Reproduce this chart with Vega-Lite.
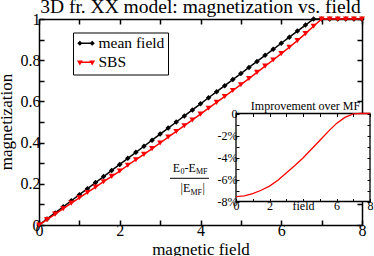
{
  "$schema": "https://vega.github.io/schema/vega-lite/v6.json",
  "width": 323,
  "height": 206,
  "autosize": {"type": "none"},
  "padding": {"left": 39, "top": 19, "right": 12, "bottom": 31},
  "background": "white",
  "title": {"text": "3D fr. XX model: magnetization vs. field", "font": "Liberation Serif", "fontSize": 19.5, "fontWeight": "normal", "color": "black", "anchor": "middle", "frame": "group", "offset": -6},
  "config": {
    "view": {"stroke": null},
    "axis": {"grid": false, "labelFont": "Liberation Serif", "titleFont": "Liberation Serif", "labelColor": "black", "titleColor": "black", "domainColor": "black", "tickColor": "black", "titleFontWeight": "normal", "minExtent": 0, "labelOverlap": false, "labelFlush": false, "labelBound": false},
    "legend": {"labelFontSize": 15.5, "labelFont": "Liberation Serif"}
  },
  "datasets": {
    "main": [
      {"h": 0, "mf": 0, "sbs": 0},
      {"h": 0.2, "mf": 0.0294, "sbs": 0.026},
      {"h": 0.4, "mf": 0.0588, "sbs": 0.053},
      {"h": 0.6, "mf": 0.0882, "sbs": 0.079},
      {"h": 0.8, "mf": 0.1176, "sbs": 0.106},
      {"h": 1.0, "mf": 0.1471, "sbs": 0.132},
      {"h": 1.2, "mf": 0.1765, "sbs": 0.158},
      {"h": 1.4, "mf": 0.2059, "sbs": 0.184},
      {"h": 1.6, "mf": 0.2353, "sbs": 0.210},
      {"h": 1.8, "mf": 0.2647, "sbs": 0.236},
      {"h": 2.0, "mf": 0.2941, "sbs": 0.262},
      {"h": 2.2, "mf": 0.3235, "sbs": 0.290},
      {"h": 2.4, "mf": 0.3529, "sbs": 0.317},
      {"h": 2.6, "mf": 0.3824, "sbs": 0.343},
      {"h": 2.8, "mf": 0.4118, "sbs": 0.371},
      {"h": 3.0, "mf": 0.4412, "sbs": 0.398},
      {"h": 3.2, "mf": 0.4706, "sbs": 0.427},
      {"h": 3.4, "mf": 0.5, "sbs": 0.454},
      {"h": 3.6, "mf": 0.5294, "sbs": 0.482},
      {"h": 3.8, "mf": 0.5588, "sbs": 0.510},
      {"h": 4.0, "mf": 0.5882, "sbs": 0.538},
      {"h": 4.2, "mf": 0.6176, "sbs": 0.567},
      {"h": 4.4, "mf": 0.6471, "sbs": 0.595},
      {"h": 4.6, "mf": 0.6765, "sbs": 0.624},
      {"h": 4.8, "mf": 0.7059, "sbs": 0.653},
      {"h": 5.0, "mf": 0.7353, "sbs": 0.681},
      {"h": 5.2, "mf": 0.7647, "sbs": 0.711},
      {"h": 5.4, "mf": 0.7941, "sbs": 0.741},
      {"h": 5.6, "mf": 0.8235, "sbs": 0.771},
      {"h": 5.8, "mf": 0.8529, "sbs": 0.801},
      {"h": 6.0, "mf": 0.8824, "sbs": 0.832},
      {"h": 6.2, "mf": 0.9118, "sbs": 0.863},
      {"h": 6.4, "mf": 0.9412, "sbs": 0.895},
      {"h": 6.6, "mf": 0.9706, "sbs": 0.929},
      {"h": 6.8, "mf": 1, "sbs": 0.965},
      {"h": 7.0, "mf": 1, "sbs": 1},
      {"h": 7.2, "mf": 1, "sbs": 1},
      {"h": 7.4, "mf": 1, "sbs": 1},
      {"h": 7.6, "mf": 1, "sbs": 1},
      {"h": 7.8, "mf": 1, "sbs": 1},
      {"h": 8.0, "mf": 1, "sbs": 1}
    ],
    "inset": [
      {"h": 0, "d": -0.0755},
      {"h": 0.5, "d": -0.0748},
      {"h": 1, "d": -0.0728},
      {"h": 1.5, "d": -0.0698},
      {"h": 2, "d": -0.066},
      {"h": 2.5, "d": -0.0607},
      {"h": 3, "d": -0.054},
      {"h": 3.5, "d": -0.0475},
      {"h": 4, "d": -0.0405},
      {"h": 4.5, "d": -0.0325},
      {"h": 5, "d": -0.0245},
      {"h": 5.5, "d": -0.0165},
      {"h": 6, "d": -0.009},
      {"h": 6.5, "d": -0.0035},
      {"h": 7, "d": -0.0003},
      {"h": 7.5, "d": 0},
      {"h": 8, "d": 0}
    ],
    "series": [
      {"s": "mean field"},
      {"s": "SBS"}
    ]
  },
  "resolve": {"scale": {"x": "independent", "y": "independent"}, "axis": {"x": "independent", "y": "independent"}},
  "layer": [
    {
      "data": {"name": "main"},
      "resolve": {"axis": {"x": "independent", "y": "independent"}},
      "layer": [
        {
          "mark": {"type": "line", "strokeWidth": 1.5, "color": "black"},
          "encoding": {
            "x": {"field": "h", "type": "quantitative", "scale": {"domain": [0, 8], "nice": false, "zero": false},
              "axis": {"orient": "bottom", "values": [0, 1, 2, 3, 4, 5, 6, 7, 8], "format": "d", "labelExpr": "datum.value % 2 === 0 ? datum.label : ''", "labelFontSize": 16, "labelPadding": 2, "tickSize": -5, "domainWidth": 1.5, "tickWidth": 1.5, "title": "magnetic field", "titleFontSize": 17, "titleX": 161.5, "titleY": 29.5, "titleBaseline": "alphabetic", "titleAlign": "center",
                "encode": {"ticks": {"y2": {"value": {"signal": "datum.value % 2 === 0 ? -6 : -3"}}}}}},
            "y": {"field": "mf", "type": "quantitative", "scale": {"domain": [0, 1], "nice": false, "zero": false},
              "axis": {"orient": "left", "values": [0, 0.1, 0.2, 0.3, 0.4, 0.5, 0.6, 0.7, 0.8, 0.9, 1], "labelExpr": "round(datum.value*10) % 2 === 0 ? format(datum.value, '.1~f') : ''", "labelFontSize": 16, "labelPadding": 4, "tickSize": -5, "domainWidth": 1.5, "tickWidth": 1.5, "title": "magnetization", "titleFontSize": 17, "titleX": -28, "titleY": 102.5, "titleBaseline": "alphabetic", "titleAngle": 270, "titleAlign": "center",
                "encode": {"ticks": {"x2": {"value": {"signal": "round(datum.value*10) % 2 === 0 ? 6 : 3"}}}}}}
          }
        },
        {
          "mark": {"type": "point", "shape": "diamond", "filled": true, "color": "black", "size": 30, "opacity": 1},
          "encoding": {
            "x": {"field": "h", "type": "quantitative", "scale": {"domain": [0, 8], "nice": false, "zero": false}, "axis": null},
            "y": {"field": "mf", "type": "quantitative", "scale": {"domain": [0, 1], "nice": false, "zero": false}, "axis": null}
          }
        },
        {
          "mark": {"type": "line", "strokeWidth": 1.5, "color": "red"},
          "encoding": {
            "x": {"field": "h", "type": "quantitative", "scale": {"domain": [0, 8], "nice": false, "zero": false},
              "axis": {"orient": "top", "values": [0, 1, 2, 3, 4, 5, 6, 7, 8], "labels": false, "title": null, "tickSize": -5, "domainWidth": 1.5, "tickWidth": 1.5,
                "encode": {"ticks": {"y2": {"value": {"signal": "datum.value % 2 === 0 ? 6 : 3"}}}}}},
            "y": {"field": "sbs", "type": "quantitative", "scale": {"domain": [0, 1], "nice": false, "zero": false},
              "axis": {"orient": "right", "values": [0, 0.1, 0.2, 0.3, 0.4, 0.5, 0.6, 0.7, 0.8, 0.9, 1], "labels": false, "title": null, "tickSize": -5, "domainWidth": 1.5, "tickWidth": 1.5,
                "encode": {"ticks": {"x2": {"value": {"signal": "round(datum.value*10) % 2 === 0 ? -6 : -3"}}}}}}
          }
        },
        {
          "mark": {"type": "point", "shape": "triangle-down", "filled": true, "color": "red", "size": 35, "opacity": 1},
          "encoding": {
            "x": {"field": "h", "type": "quantitative", "scale": {"domain": [0, 8], "nice": false, "zero": false}, "axis": null},
            "y": {"field": "sbs", "type": "quantitative", "scale": {"domain": [0, 1], "nice": false, "zero": false}, "axis": null}
          }
        },
        {
          "data": {"name": "series"},
          "mark": {"type": "point", "filled": true, "opacity": 0},
          "encoding": {
            "color": {"field": "s", "type": "nominal", "scale": {"domain": ["mean field", "SBS"], "range": ["black", "red"]},
              "legend": {"orient": "none", "legendX": 34, "legendY": 13.5, "title": null, "strokeColor": "black", "fillColor": "white", "padding": 3, "labelFont": "Liberation Serif", "labelFontSize": 15.5, "labelColor": "black", "labelOffset": 7, "symbolSize": 169, "symbolOpacity": 1, "symbolStrokeWidth": 0}},
            "shape": {"field": "s", "type": "nominal", "scale": {"domain": ["mean field", "SBS"], "range": ["M-0.6,-0.1H1.3V0.1H-0.6ZM-0.6,-0.4L-0.2,0L-0.6,0.4L-1,0ZM1.3,-0.4L1.7,0L1.3,0.4L0.9,0Z", "M-0.6,-0.1H1.3V0.1H-0.6ZM-1.05,-0.28L-0.15,-0.28L-0.6,0.5ZM0.85,-0.28L1.75,-0.28L1.3,0.5Z"]},
              "legend": {"orient": "none", "legendX": 34, "legendY": 13.5, "title": null, "strokeColor": "black", "fillColor": "white", "padding": 3, "labelFont": "Liberation Serif", "labelFontSize": 15.5, "labelColor": "black", "labelOffset": 7, "symbolSize": 169, "symbolOpacity": 1, "symbolStrokeWidth": 0}}
          }
        }
      ]
    },
    {
      "resolve": {"axis": {"x": "independent", "y": "independent"}},
      "layer": [
        {
          "data": {"values": [{}]},
          "mark": {"type": "rect", "fill": "white", "stroke": "black", "strokeWidth": 1.3},
          "encoding": {
            "x": {"datum": 0, "type": "quantitative", "scale": {"domain": [0, 8], "range": [197, 331], "nice": false, "zero": false},
              "axis": {"orient": "top", "offset": -94.5, "values": [0, 1, 2, 3, 4, 5, 6, 7, 8], "labels": false, "domain": false, "tickSize": -3, "title": "Improvement over MF", "titleFontSize": 12, "titleX": 266, "titleY": -4, "titleBaseline": "alphabetic", "titleAlign": "center", "zindex": 1, "tickWidth": 1,
                "encode": {"ticks": {"y2": {"value": {"signal": "datum.value % 2 === 0 ? 4 : 2.5"}}}}}},
            "x2": {"datum": 8},
            "y": {"datum": -0.08, "type": "quantitative", "scale": {"domain": [-0.08, 0], "range": [182.5, 94.5], "nice": false, "zero": false},
              "axis": {"orient": "right", "offset": 8, "values": [-0.08, -0.07, -0.06, -0.05, -0.04, -0.03, -0.02, -0.01, 0], "labels": false, "domain": false, "tickSize": -3, "title": null, "zindex": 1, "tickWidth": 1,
                "encode": {"ticks": {"x2": {"value": {"signal": "abs(round(datum.value*100)) % 2 === 0 ? -4 : -2.5"}}}}}},
            "y2": {"datum": 0}
          }
        },
        {
          "data": {"name": "inset"},
          "mark": {"type": "line", "color": "red", "strokeWidth": 1.3},
          "encoding": {
            "x": {"field": "h", "type": "quantitative", "scale": {"domain": [0, 8], "range": [197, 331], "nice": false, "zero": false},
              "axis": {"orient": "bottom", "offset": -23.5, "values": [0, 1, 2, 3, 4, 5, 6, 7, 8], "format": "d", "labelExpr": "datum.value === 4 ? 'field' : (datum.value % 2 === 0 ? datum.label : '')", "labelFontSize": 12, "labelPadding": 2, "tickSize": -3, "domain": false, "title": null, "zindex": 1, "tickWidth": 1,
                "encode": {"ticks": {"y2": {"value": {"signal": "datum.value % 2 === 0 ? -4 : -2.5"}}}}}},
            "y": {"field": "d", "type": "quantitative", "scale": {"domain": [-0.08, 0], "range": [182.5, 94.5], "nice": false, "zero": false},
              "axis": {"orient": "left", "offset": -197, "values": [-0.08, -0.07, -0.06, -0.05, -0.04, -0.03, -0.02, -0.01, 0], "labelExpr": "abs(round(datum.value*100)) % 2 === 0 ? (datum.value === 0 ? '0' : '-' + format(abs(datum.value)*100, '.0f') + '%') : ''", "labelFontSize": 12, "labelPadding": 2, "tickSize": -3, "domain": false, "title": null, "zindex": 1, "tickWidth": 1,
                "encode": {"ticks": {"x2": {"value": {"signal": "abs(round(datum.value*100)) % 2 === 0 ? 4 : 2.5"}}}}}}
          }
        },
        {
          "data": {"values": [{}]},
          "mark": {"type": "text", "text": "E", "font": "Liberation Serif", "color": "black", "fontSize": 12, "align": "left", "baseline": "alphabetic"},
          "encoding": {"x": {"datum": -3.78, "type": "quantitative", "axis": null}, "y": {"datum": -0.05345, "type": "quantitative", "axis": null}}
        },
        {
          "data": {"values": [{}]},
          "mark": {"type": "text", "text": "0", "font": "Liberation Serif", "color": "black", "fontSize": 8, "align": "left", "baseline": "alphabetic"},
          "encoding": {"x": {"datum": -3.31, "type": "quantitative", "axis": null}, "y": {"datum": -0.05545, "type": "quantitative", "axis": null}}
        },
        {
          "data": {"values": [{}]},
          "mark": {"type": "text", "text": "-E", "font": "Liberation Serif", "color": "black", "fontSize": 12, "align": "left", "baseline": "alphabetic"},
          "encoding": {"x": {"datum": -3.07, "type": "quantitative", "axis": null}, "y": {"datum": -0.05345, "type": "quantitative", "axis": null}}
        },
        {
          "data": {"values": [{}]},
          "mark": {"type": "text", "text": "MF", "font": "Liberation Serif", "color": "black", "fontSize": 8, "align": "left", "baseline": "alphabetic"},
          "encoding": {"x": {"datum": -2.39, "type": "quantitative", "axis": null}, "y": {"datum": -0.05545, "type": "quantitative", "axis": null}}
        },
        {
          "data": {"values": [{}]},
          "mark": {"type": "rule", "color": "black", "strokeWidth": 1},
          "encoding": {"x": {"datum": -3.94, "type": "quantitative", "axis": null}, "x2": {"datum": -1.61}, "y": {"datum": -0.0589, "type": "quantitative", "axis": null}}
        },
        {
          "data": {"values": [{}]},
          "mark": {"type": "text", "text": "|E", "font": "Liberation Serif", "color": "black", "fontSize": 12, "align": "left", "baseline": "alphabetic"},
          "encoding": {"x": {"datum": -3.31, "type": "quantitative", "axis": null}, "y": {"datum": -0.07136, "type": "quantitative", "axis": null}}
        },
        {
          "data": {"values": [{}]},
          "mark": {"type": "text", "text": "MF", "font": "Liberation Serif", "color": "black", "fontSize": 8, "align": "left", "baseline": "alphabetic"},
          "encoding": {"x": {"datum": -2.72, "type": "quantitative", "axis": null}, "y": {"datum": -0.07364, "type": "quantitative", "axis": null}}
        },
        {
          "data": {"values": [{}]},
          "mark": {"type": "text", "text": "|", "font": "Liberation Serif", "color": "black", "fontSize": 12, "align": "left", "baseline": "alphabetic"},
          "encoding": {"x": {"datum": -2.0, "type": "quantitative", "axis": null}, "y": {"datum": -0.07136, "type": "quantitative", "axis": null}}
        }
      ]
    }
  ]
}
